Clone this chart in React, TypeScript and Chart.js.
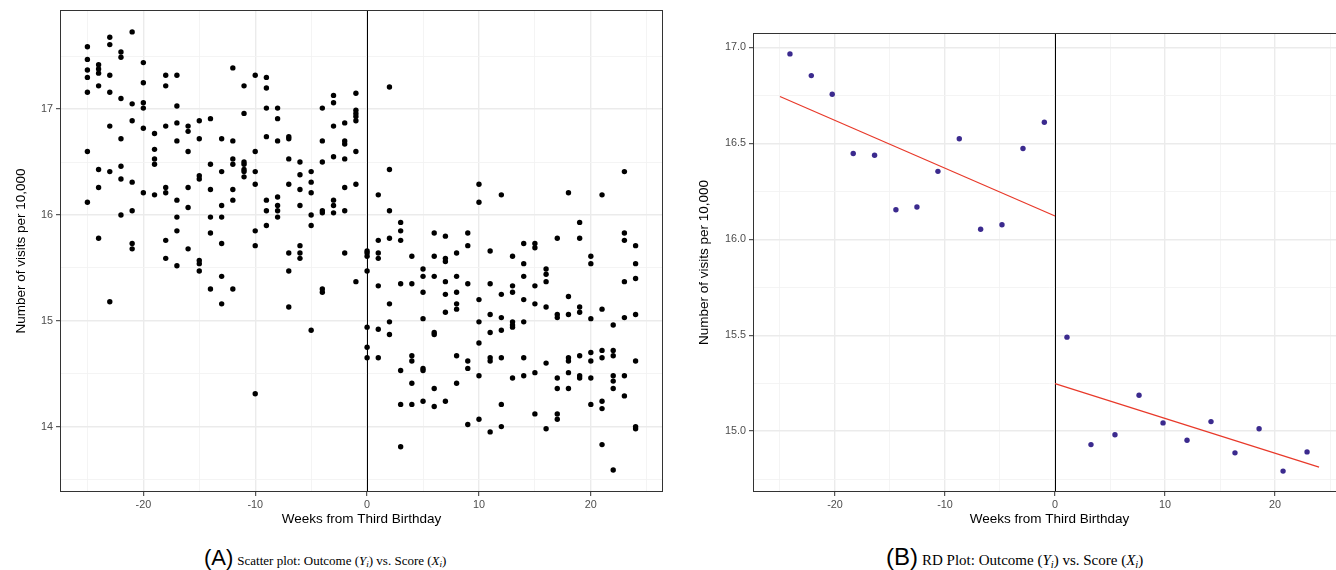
import React, { useEffect, useRef } from "react";
import { Chart, registerables } from "chart.js";

Chart.register(...registerables);

// ---------- Panel A: raw scatter (week -> visits per 10,000) ----------
const weekValues = [
  -25, -24, -23, -22, -21, -20, -19, -18, -17, -16, -15, -14, -13, -12, -11, -10, -9, -8, -7, -6, -5, -4, -3, -2, -1,
  0, 1, 2, 3, 4, 5, 6, 7, 8, 9, 10, 11, 12, 13, 14, 15, 16, 17, 18, 19, 20, 21, 22, 23, 24,
];
const visitsByWeek = [
  [17.59, 17.47, 17.37, 17.3, 17.16, 16.6, 16.12],
  [17.42, 17.38, 17.34, 17.22, 16.43, 16.26, 15.78],
  [17.68, 17.61, 17.32, 17.16, 16.84, 16.41, 15.18],
  [17.54, 17.49, 17.1, 16.72, 16.46, 16.34, 16.0],
  [17.73, 17.05, 16.89, 16.31, 16.04, 15.73, 15.68],
  [17.44, 17.25, 17.06, 17.01, 16.82, 16.21],
  [16.77, 16.62, 16.53, 16.48, 16.19],
  [17.32, 17.22, 16.84, 16.26, 16.21, 15.76, 15.59],
  [17.32, 17.03, 16.87, 16.7, 16.14, 15.98, 15.85, 15.52],
  [16.84, 16.79, 16.6, 16.26, 16.07, 15.68],
  [16.89, 16.72, 16.37, 16.34, 15.57, 15.54, 15.47],
  [16.91, 16.48, 16.24, 15.98, 15.83, 15.3],
  [16.72, 16.41, 16.09, 15.98, 15.73, 15.42, 15.16],
  [17.39, 16.7, 16.53, 16.48, 16.24, 16.14, 15.3],
  [17.22, 16.96, 16.5, 16.48, 16.43, 16.41, 16.36],
  [17.32, 16.6, 16.41, 16.29, 15.85, 15.71, 14.31],
  [17.3, 17.2, 17.01, 16.74, 16.14, 16.04, 15.9],
  [17.01, 16.91, 16.7, 16.17, 16.09, 16.04, 15.98],
  [16.74, 16.72, 16.53, 16.29, 15.64, 15.47, 15.13],
  [16.5, 16.38, 16.24, 16.09, 15.71, 15.64, 15.59],
  [16.41, 16.31, 16.21, 16.0, 15.9, 14.91],
  [17.01, 16.7, 16.5, 16.04, 16.02, 15.3, 15.27],
  [17.13, 17.06, 16.84, 16.55, 16.14, 16.09, 16.02],
  [16.87, 16.7, 16.67, 16.53, 16.26, 16.04, 15.64],
  [17.15, 16.99, 16.96, 16.93, 16.89, 16.6, 16.29, 15.37],
  [15.66, 15.64, 15.61, 15.47, 14.94, 14.75, 14.65],
  [16.19, 15.76, 15.64, 15.59, 15.33, 14.92, 14.65],
  [17.21, 16.43, 16.04, 15.78, 15.16, 14.99, 14.87],
  [15.93, 15.85, 15.76, 15.35, 14.53, 14.21, 13.81],
  [15.61, 15.35, 14.67, 14.62, 14.41, 14.21],
  [15.49, 15.42, 15.27, 15.02, 14.55, 14.53, 14.24],
  [15.83, 15.61, 15.42, 14.89, 14.87, 14.36, 14.19],
  [15.8, 15.59, 15.56, 15.37, 15.25, 15.08, 14.24],
  [15.64, 15.42, 15.27, 15.16, 15.11, 14.67, 14.41],
  [15.83, 15.71, 15.35, 14.62, 14.55, 14.02],
  [16.29, 16.12, 15.2, 14.99, 14.79, 14.48, 14.07],
  [15.66, 15.35, 15.06, 14.89, 14.65, 14.62, 13.95],
  [16.19, 15.25, 15.03, 14.91, 14.65, 14.21, 14.0],
  [15.61, 15.33, 15.27, 14.99, 14.96, 14.94, 14.46],
  [15.73, 15.54, 15.42, 15.2, 14.99, 14.65, 14.48],
  [15.73, 15.69, 15.33, 15.16, 14.51, 14.12],
  [15.49, 15.44, 15.37, 15.13, 14.6, 13.98],
  [15.78, 15.06, 15.03, 14.46, 14.36, 14.12, 14.07],
  [16.21, 15.23, 15.06, 14.65, 14.62, 14.51, 14.36],
  [15.93, 15.78, 15.13, 15.08, 14.67, 14.48, 14.46],
  [15.61, 15.54, 15.02, 14.7, 14.62, 14.46, 14.21],
  [16.19, 15.11, 14.72, 14.65, 14.24, 14.17, 13.83],
  [14.96, 14.72, 14.67, 14.48, 14.43, 14.36, 13.59],
  [16.41, 15.83, 15.76, 15.37, 15.03, 14.48, 14.29],
  [15.71, 15.54, 15.4, 15.06, 14.62, 14.0, 13.98],
];

// ---------- Panel B: binned means + linear fits ----------
const binX = [
  -24.09, -22.15, -20.25, -18.34, -16.4, -14.46, -12.55, -10.64, -8.7, -6.76, -4.82, -2.91, -0.97,
  1.09, 3.27, 5.45, 7.64, 9.82, 12.0, 14.18, 16.36, 18.55, 20.73, 22.91,
];
const binY = [
  16.966, 16.853, 16.756, 16.447, 16.438, 16.154, 16.168, 16.354, 16.524, 16.052, 16.076, 16.473, 16.61,
  15.49, 14.93, 14.981, 15.187, 15.043, 14.953, 15.05, 14.887, 15.013, 14.792, 14.892,
];
const fitLeftX = [-25, 0];
const fitLeftY = [16.744, 16.121];
const fitRightX = [0, 24];
const fitRightY = [15.248, 14.813];

const cutoff = 0;

// ---------- Axes ----------
const xLimits = [-27.45, 26.45];
const xMajorTicks = [-20, -10, 0, 10, 20];
const xMinorTicks = [-25, -15, -5, 5, 15, 25];
const leftYLimits = [13.382, 17.937];
const leftYMajor = [14, 15, 16, 17];
const leftYMinor = [13.5, 14.5, 15.5, 16.5, 17.5];
const rightYLimits = [14.683, 17.075];
const rightYMajor = [15.0, 15.5, 16.0, 16.5, 17.0];
const rightYMinor = [14.75, 15.25, 15.75, 16.25, 16.75];

const xTitle = "Weeks from Third Birthday";
const yTitle = "Number of visits per 10,000";

const FONT = "'Liberation Sans', Arial, Helvetica, sans-serif";

function makeAxis(
  min: number,
  max: number,
  major: number[],
  minor: number[],
  fmt: (v: number) => string,
  title: string,
  titlePad: any,
  size: number,
  horizontal: boolean
) {
  const isMajor = (v: number) => major.some((m) => Math.abs(m - v) < 1e-9);
  return {
    type: "linear",
    position: horizontal ? "bottom" : "left",
    min,
    max,
    afterBuildTicks: (scale: any) => {
      scale.ticks = [...major, ...minor].sort((a, b) => a - b).map((v) => ({ value: v }));
    },
    afterFit: (scale: any) => {
      if (horizontal) scale.height = size;
      else scale.width = size;
    },
    grid: {
      color: (c: any) => (isMajor(c.tick?.value) ? "#EBEBEB" : "#F3F3F3"),
      lineWidth: (c: any) => (isMajor(c.tick?.value) ? 1.4 : 0.9),
      drawTicks: true,
      tickLength: 4,
      tickWidth: 1,
      tickColor: (c: any) => (isMajor(c.tick?.value) ? "#333333" : "rgba(0,0,0,0)"),
    },
    border: { display: false },
    ticks: {
      autoSkip: false,
      maxRotation: 0,
      minRotation: 0,
      padding: 3,
      color: "#4D4D4D",
      font: { family: FONT, size: 10.8 },
      callback: (v: any) => (isMajor(Number(v)) ? fmt(Number(v)) : ""),
    },
    title: {
      display: true,
      text: title,
      color: "#000000",
      font: { family: FONT, size: 13.5 },
      padding: titlePad,
    },
  };
}

const panelPlugin = {
  id: "panelDecor",
  beforeDatasetsDraw(chart: any) {
    const { ctx, chartArea: a, scales } = chart;
    const px = Math.round(scales.x.getPixelForValue(cutoff)) + 0.5;
    ctx.save();
    ctx.strokeStyle = "#000000";
    ctx.lineWidth = 1;
    ctx.beginPath();
    ctx.moveTo(px, a.top);
    ctx.lineTo(px, a.bottom);
    ctx.stroke();
    ctx.restore();
  },
  afterDatasetsDraw(chart: any) {
    const { ctx, chartArea: a } = chart;
    ctx.save();
    ctx.strokeStyle = "#333333";
    ctx.lineWidth = 1;
    ctx.strokeRect(a.left + 0.5, a.top + 0.5, a.right - a.left - 1, a.bottom - a.top - 1);
    ctx.restore();
  },
};

const CANVAS_W = 680;
const CANVAS_H = 535;

export default function App() {
  const leftRef = useRef<HTMLCanvasElement | null>(null);
  const rightRef = useRef<HTMLCanvasElement | null>(null);

  useEffect(() => {
    const scatterPoints = weekValues.flatMap((w, i) => visitsByWeek[i].map((v) => ({ x: w, y: v })));
    const binPoints = binX.map((x, i) => ({ x, y: binY[i] }));
    const leftFit = fitLeftX.map((x, i) => ({ x, y: fitLeftY[i] }));
    const rightFit = fitRightX.map((x, i) => ({ x, y: fitRightY[i] }));

    const common = {
      responsive: false,
      maintainAspectRatio: false,
      animation: false,
      devicePixelRatio: 1,
      events: [],
    };

    const left = new Chart(leftRef.current as HTMLCanvasElement, {
      type: "scatter",
      data: {
        datasets: [
          {
            data: scatterPoints,
            backgroundColor: "#000000",
            borderWidth: 0,
            pointRadius: 2.7,
          },
        ],
      },
      options: {
        ...common,
        layout: { padding: { top: 10, right: CANVAS_W - 663, bottom: 0, left: 0 } },
        plugins: { legend: { display: false }, tooltip: { enabled: false } },
        scales: {
          x: makeAxis(xLimits[0], xLimits[1], xMajorTicks, xMinorTicks, (v) => String(v), xTitle, { top: 0, bottom: 8 }, CANVAS_H - 492, true),
          y: makeAxis(leftYLimits[0], leftYLimits[1], leftYMajor, leftYMinor, (v) => String(v), yTitle, { top: 13, bottom: 0 }, 60, false),
        },
      } as any,
      plugins: [panelPlugin],
    } as any);

    const right = new Chart(rightRef.current as HTMLCanvasElement, {
      type: "scatter",
      data: {
        datasets: [
          {
            data: leftFit,
            showLine: true,
            borderColor: "#E8392A",
            borderWidth: 1.2,
            pointRadius: 0,
          },
          {
            data: rightFit,
            showLine: true,
            borderColor: "#E8392A",
            borderWidth: 1.2,
            pointRadius: 0,
          },
          {
            data: binPoints,
            backgroundColor: "#3B2A8E",
            borderWidth: 0,
            pointRadius: 2.7,
          },
        ],
      },
      options: {
        ...common,
        layout: { padding: { top: 33, right: CANVAS_W - (1346 - 690), bottom: 0, left: 0 } },
        plugins: { legend: { display: false }, tooltip: { enabled: false } },
        scales: {
          x: makeAxis(xLimits[0], xLimits[1], xMajorTicks, xMinorTicks, (v) => String(v), xTitle, { top: 0, bottom: 8 }, CANVAS_H - 492, true),
          y: makeAxis(rightYLimits[0], rightYLimits[1], rightYMajor, rightYMinor, (v) => v.toFixed(1), yTitle, { top: 6, bottom: 0 }, 63, false),
        },
      } as any,
      plugins: [panelPlugin],
    } as any);

    return () => {
      left.destroy();
      right.destroy();
    };
  }, []);

  const serif = "'Liberation Serif', 'Times New Roman', serif";
  const sub: React.CSSProperties = { fontSize: "0.7em", verticalAlign: "-0.25em", fontStyle: "italic" };

  return (
    <div
      style={{
        position: "fixed",
        left: 0,
        top: 0,
        width: 1336,
        height: 570,
        overflow: "hidden",
        background: "#ffffff",
      }}
    >
      <canvas ref={leftRef} width={CANVAS_W} height={CANVAS_H} style={{ position: "absolute", left: 0, top: 0 }} />
      <canvas ref={rightRef} width={CANVAS_W} height={CANVAS_H} style={{ position: "absolute", left: 690, top: 0 }} />
      <div style={{ position: "absolute", left: 204, top: 547, display: "flex", alignItems: "baseline", whiteSpace: "nowrap" }}>
        <span style={{ fontFamily: FONT, fontSize: 22, lineHeight: "22px" }}>(A)</span>
        <span style={{ fontFamily: serif, fontSize: 13, marginLeft: 4, whiteSpace: "nowrap" }}>
          Scatter plot: Outcome (<i>Y</i>
          <span style={sub}>i</span>) vs. Score (<i>X</i>
          <span style={sub}>i</span>)
        </span>
      </div>
      <div style={{ position: "absolute", left: 886, top: 545, display: "flex", alignItems: "baseline", whiteSpace: "nowrap" }}>
        <span style={{ fontFamily: FONT, fontSize: 24, lineHeight: "24px" }}>(B)</span>
        <span style={{ fontFamily: serif, fontSize: 15, marginLeft: 4, whiteSpace: "nowrap" }}>
          RD Plot: Outcome (<i>Y</i>
          <span style={sub}>i</span>) vs. Score (<i>X</i>
          <span style={sub}>i</span>)
        </span>
      </div>
    </div>
  );
}
